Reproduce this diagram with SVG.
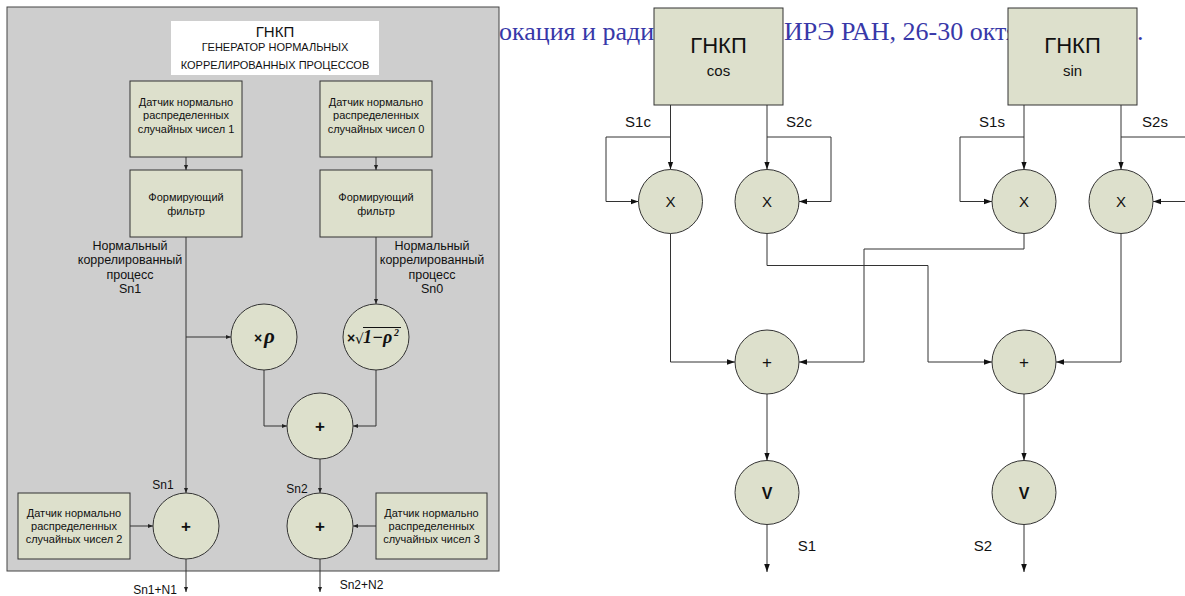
<svg xmlns="http://www.w3.org/2000/svg" width="1185" height="596" viewBox="0 0 1185 596">
<style>
  .t{font-family:"Liberation Sans",Arial,sans-serif;fill:#111;text-anchor:middle}
  .box{fill:#dde0cc;stroke:#333;stroke-width:1}
  .ln{fill:none;stroke:#333;stroke-width:1}
  .s{marker-end:url(#aS)}
  .r{marker-end:url(#aR)}
  .math{font-family:"Liberation Serif","Times New Roman",serif;font-weight:bold;font-style:italic;fill:#111}
</style>
<defs>
  <marker id="aS" viewBox="0 0 10 10" refX="10" refY="5" markerWidth="5" markerHeight="5" orient="auto" markerUnits="userSpaceOnUse"><path d="M0,1 L10,5 L0,9 z" fill="#222"/></marker>
  <marker id="aR" viewBox="0 0 10 10" refX="10" refY="5" markerWidth="8" markerHeight="8" orient="auto" markerUnits="userSpaceOnUse"><path d="M0,1.5 L10,5 L0,8.5 z" fill="#111"/></marker>
</defs>
<rect width="1185" height="596" fill="#fff"/>
<!-- background heading text -->
<g id="heading" font-family="'Liberation Serif','Times New Roman',serif" font-size="26" fill="#3838a8">
  <text x="499" y="40">окация и ради</text>
  <text x="784" y="40">ИРЭ РАН, 26-30 октя</text>
  <text x="1137" y="40">.</text>
</g>
<!-- left panel -->
<g id="panel">
  <rect x="7" y="7" width="492" height="564" fill="#cecece" stroke="#444" stroke-width="1"/>
</g>
<g id="title">
  <rect x="171" y="21" width="208" height="54" fill="#fff"/>
  <text class="t" x="275" y="37" font-size="15">ГНКП</text>
  <text class="t" x="275" y="51" font-size="11">ГЕНЕРАТОР НОРМАЛЬНЫХ</text>
  <text class="t" x="275" y="69" font-size="11">КОРРЕЛИРОВАННЫХ ПРОЦЕССОВ</text>
</g>
<g id="connectors-left" class="ln">
  <path class="s" d="M186,157 V170"/>
  <path class="s" d="M376,157 V170"/>
  <path class="s" d="M186,237 V493"/>
  <path class="s" d="M186,337 H231"/>
  <path class="s" d="M376,237 V304"/>
  <path class="s" d="M264,370 V426 H287"/>
  <path class="s" d="M376,370 V426 H353"/>
  <path class="s" d="M320,459 V493"/>
  <path class="s" d="M130,526 H153"/>
  <path class="s" d="M376,526 H353"/>
  <path class="s" d="M186,559 V592"/>
  <path class="s" d="M320,559 V592"/>
</g>
<g id="gen1">
  <rect class="box" x="130" y="81" width="112" height="76"/>
  <text class="t" font-size="11"><tspan x="186" y="105.5">Датчик нормально</tspan><tspan x="186" y="119">распределенных</tspan><tspan x="186" y="132.5">случайных чисел  1</tspan></text>
</g>
<g id="gen0">
  <rect class="box" x="320" y="81" width="112" height="76"/>
  <text class="t" font-size="11"><tspan x="376" y="105.5">Датчик нормально</tspan><tspan x="376" y="119">распределенных</tspan><tspan x="376" y="132.5">случайных чисел  0</tspan></text>
</g>
<g id="filter1">
  <rect class="box" x="130" y="170" width="112" height="67"/>
  <text class="t" font-size="11"><tspan x="186" y="200.5">Формирующий</tspan><tspan x="186" y="215">фильтр</tspan></text>
</g>
<g id="filter0">
  <rect class="box" x="320" y="170" width="112" height="67"/>
  <text class="t" font-size="11"><tspan x="376" y="200.5">Формирующий</tspan><tspan x="376" y="215">фильтр</tspan></text>
</g>
<g id="label-sn1">
  <text class="t" font-size="12.5"><tspan x="130" y="249.5">Нормальный</tspan><tspan x="130" y="264">коррелированный</tspan><tspan x="130" y="278.5">процесс</tspan><tspan x="130" y="293">Sn1</tspan></text>
</g>
<g id="label-sn0">
  <text class="t" font-size="12.5"><tspan x="432" y="249.5">Нормальный</tspan><tspan x="432" y="264">коррелированный</tspan><tspan x="432" y="278.5">процесс</tspan><tspan x="432" y="293">Sn0</tspan></text>
</g>
<g id="mul-rho">
  <circle class="box" cx="264" cy="337" r="33"/>
  <text x="254" y="343" font-family="'Liberation Sans',Arial,sans-serif" font-weight="bold" font-size="14" fill="#111">×</text>
  <text class="math" x="264" y="343" font-size="21">ρ</text>
</g>
<g id="mul-sqrt">
  <circle class="box" cx="376" cy="337" r="33"/>
  <text x="347" y="343" font-family="'Liberation Sans',Arial,sans-serif" font-weight="bold" font-size="14" fill="#111">×</text>
  <text x="355" y="344" font-family="'DejaVu Sans',sans-serif" font-size="14" fill="#111">√</text>
  <line x1="363" y1="327.5" x2="401" y2="327.5" stroke="#111" stroke-width="1"/>
  <text class="math" x="363" y="343" font-size="18">1−ρ</text>
  <text class="math" x="394" y="336" font-size="10">2</text>
</g>
<g id="sum-mid">
  <circle class="box" cx="320" cy="426" r="33"/>
  <text class="t" x="320" y="432" font-size="17" font-weight="bold">+</text>
</g>
<g id="sum-sn1">
  <circle class="box" cx="186" cy="526" r="33"/>
  <text class="t" x="186" y="532" font-size="17" font-weight="bold">+</text>
  <text class="t" x="163" y="489" font-size="12">Sn1</text>
</g>
<g id="sum-sn2">
  <circle class="box" cx="320" cy="526" r="33"/>
  <text class="t" x="320" y="532" font-size="17" font-weight="bold">+</text>
  <text class="t" x="297" y="493" font-size="12">Sn2</text>
</g>
<g id="gen2">
  <rect class="box" x="18" y="493" width="112" height="66"/>
  <text class="t" font-size="11"><tspan x="74" y="516.7">Датчик нормально</tspan><tspan x="74" y="530">распределенных</tspan><tspan x="74" y="543.3">случайных чисел  2</tspan></text>
</g>
<g id="gen3">
  <rect class="box" x="376" y="493" width="111" height="66"/>
  <text class="t" font-size="11"><tspan x="431.5" y="516.7">Датчик нормально</tspan><tspan x="431.5" y="530">распределенных</tspan><tspan x="431.5" y="543.3">случайных чисел  3</tspan></text>
</g>
<g id="out-left">
  <text class="t" x="155" y="594" font-size="12">Sn1+N1</text>
  <text class="t" x="361.5" y="589" font-size="12">Sn2+N2</text>
</g>
<!-- right diagram -->
<g id="connectors-right" class="ln">
  <path class="r" d="M670.5,105 V169.5"/>
  <path class="r" d="M670.5,137 H606 V201.5 H638.5"/>
  <path class="r" d="M767,105 V169.5"/>
  <path class="r" d="M767,137 H831 V201.5 H799"/>
  <path class="r" d="M1024,105 V169.5"/>
  <path class="r" d="M1024,137 H960 V201.5 H992"/>
  <path class="r" d="M1121,105 V169.5"/>
  <path d="M1121,137 H1190"/>
  <path class="r" d="M1190,201.5 H1153"/>
  <path class="r" d="M670.5,233.5 V362 H735"/>
  <path class="r" d="M767,233.5 V265.5 H928 V362 H992"/>
  <path class="r" d="M1024,233.5 V249 H864 V362 H799"/>
  <path class="r" d="M1121,233.5 V362 H1056"/>
  <path class="r" d="M767,394 V460.5"/>
  <path class="r" d="M1024,394 V460.5"/>
  <path class="r" d="M767,524.5 V572"/>
  <path class="r" d="M1024,524.5 V572"/>
</g>
<g id="gnkp-cos">
  <rect class="box" x="654" y="8" width="129" height="97"/>
  <text class="t" x="718.5" y="53" font-size="22">ГНКП</text>
  <text class="t" x="718.5" y="76" font-size="15">cos</text>
</g>
<g id="gnkp-sin">
  <rect class="box" x="1008" y="8" width="129" height="97"/>
  <text class="t" x="1072.5" y="53" font-size="22">ГНКП</text>
  <text class="t" x="1072.5" y="76" font-size="15">sin</text>
</g>
<g id="labels-right">
  <text class="t" x="638" y="126.5" font-size="15">S1c</text>
  <text class="t" x="799" y="126.5" font-size="15">S2c</text>
  <text class="t" x="992" y="126.5" font-size="15">S1s</text>
  <text class="t" x="1155" y="126.5" font-size="15">S2s</text>
</g>
<g id="x1"><circle class="box" cx="670.5" cy="201.5" r="32"/><text class="t" x="670.5" y="207" font-size="15">X</text></g>
<g id="x2"><circle class="box" cx="767" cy="201.5" r="32"/><text class="t" x="767" y="207" font-size="15">X</text></g>
<g id="x3"><circle class="box" cx="1024" cy="201.5" r="32"/><text class="t" x="1024" y="207" font-size="15">X</text></g>
<g id="x4"><circle class="box" cx="1121" cy="201.5" r="32"/><text class="t" x="1121" y="207" font-size="15">X</text></g>
<g id="plus1"><circle class="box" cx="767" cy="362" r="32"/><text class="t" x="767" y="368" font-size="17">+</text></g>
<g id="plus2"><circle class="box" cx="1024" cy="362" r="32"/><text class="t" x="1024" y="368" font-size="17">+</text></g>
<g id="v1"><circle class="box" cx="767" cy="492.5" r="32"/><text class="t" x="767" y="498.5" font-size="16" font-weight="bold">V</text></g>
<g id="v2"><circle class="box" cx="1024" cy="492.5" r="32"/><text class="t" x="1024" y="498.5" font-size="16" font-weight="bold">V</text></g>
<g id="labels-out">
  <text class="t" x="807" y="551" font-size="15">S1</text>
  <text class="t" x="983" y="551" font-size="15">S2</text>
</g>
</svg>
